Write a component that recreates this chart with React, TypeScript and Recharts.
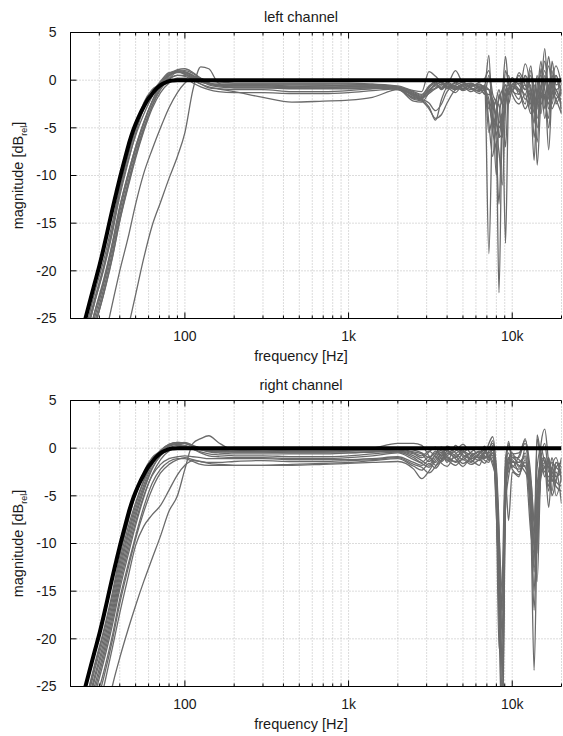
import { LineChart, Line, XAxis, YAxis, CartesianGrid, ReferenceLine, Label } from 'recharts'

// frequency grid (Hz), shared by every measured curve
const FREQ = [
  20, 25, 28, 32, 36, 40, 45, 50, 56, 63, 71, 80, 90, 100, 112, 125, 140, 160, 200,
  300, 450, 700, 1000, 1400, 2000, 2500,
  2800, 3100, 3400, 3700, 4000, 4500, 5000, 5600, 6300, 6800,
  7200, 7600, 8000, 8300, 8700, 9100, 9500, 10000,
  11000, 12000, 13000, 13600, 14200, 15000, 15800, 16700, 17500, 18500, 20000,
]

// target high-pass response (thick black), own denser grid for a smooth knee
const TARGET_FREQ = [
  20, 22, 24, 26, 28, 30, 32, 34, 36, 38, 40, 42, 44, 46, 48, 50, 53, 56, 59, 62, 65, 68, 72, 76, 80, 85, 90, 100, 1000, 20000,
]
const TARGET = [
  -31, -28.3, -25.8, -23.5, -21.4, -19.5, -17.5, -15.5, -13.6, -11.9, -10.3, -8.9, -7.6, -6.4, -5.4, -4.6,
  -3.6, -2.8, -2.1, -1.6, -1.15, -0.8, -0.45, -0.25, -0.1, -0.03, 0, 0, 0, 0,
]

// left channel measurements
const LEFT_1 = [
  -33, -26.3, -23, -19.4, -15.7, -11.8, -8.4, -5.8, -3.6, -1.7, -0.2, 0.6, 0.9, 0.7, 0.3, -0.1, -0.3, -0.4, -0.4,
  -0.4, -0.4, -0.4, -0.4, -0.5, -0.7, -1.2,
  -1.5, -0.6, -0.2, -0.5, -0.3, -0.8, -0.4, -0.6, -0.5, -0.8,
  -18.2, -3.5, -2.0, -1.0, -2.5, -1.0, -0.5, -1.0,
  0.5, -1.0, 1.5, -2.0, -3.0, 1.2, -1.0, -2.5, 0.5, -1.0, -0.5,
]
const LEFT_2 = [
  -34.5, -27.8, -24.5, -21, -17.2, -13.3, -9.8, -7.0, -4.5, -2.2, -0.4, 0.7, 1.0, 0.9, 0.5, 0, -0.3, -0.5, -0.5,
  -0.5, -0.5, -0.5, -0.6, -0.6, -0.8, -1.4,
  -1.7, -1.0, -0.5, -0.2, -0.7, -0.3, -0.9, -0.5, -1.0, -0.6,
  -5.5, -4.0, -6.5, -22.3, -4.0, -1.5, -0.8, -1.2,
  -1.5, 1.7, -2.0, -8.4, -1.5, -0.5, 2.0, -1.0, -2.0, 0.5, -1.5,
]
const LEFT_3 = [
  -32.5, -25.8, -22.4, -18.8, -15, -11.2, -7.9, -5.2, -3.0, -1.3, -0.1, 0.8, 0.9, 0.6, 0.2, -0.2, -0.4, -0.6, -0.6,
  -0.6, -0.7, -0.7, -0.7, -0.7, -0.9, -1.5,
  -1.8, -1.2, -0.8, -0.4, -0.6, -1.0, -0.5, -0.3, -0.9, -1.2,
  -3.0, -2.0, -4.5, -6.0, -3.5, -17.1, -2.0, -0.6,
  -1.0, -0.5, -2.5, -1.0, -8.9, -2.0, -0.5, 1.5, -1.0, -2.0, -3.5,
]
const LEFT_4 = [
  -36, -29.2, -26, -22.3, -18.6, -14.7, -11, -8.0, -5.2, -2.7, -0.8, 0.4, 1.1, 1.2, 0.8, 0.2, -0.3, -0.6, -0.7,
  -0.7, -0.8, -0.8, -0.8, -0.8, -1.0, -1.8,
  -2.0, -0.8, -0.3, -0.9, -0.4, -0.6, -1.1, -0.7, -0.4, -1.0,
  -2.0, -5.5, -7.5, -13.0, -3.0, -0.5, -1.5, -0.5,
  0.0, -2.0, -1.0, -3.5, -1.5, 2.0, -3.0, -0.5, -2.5, 0.0, -1.0,
]
const LEFT_5 = [
  -35, -28.2, -25, -21.3, -17.6, -13.8, -10.2, -7.3, -4.6, -2.3, -0.5, 0.5, 0.8, 0.8, 0.5, 0, -0.5, -0.7, -0.8,
  -0.8, -0.9, -0.9, -0.9, -0.8, -0.9, -1.6,
  -1.9, -1.4, -0.9, -0.6, -0.9, -0.2, -0.6, -1.2, -0.7, -0.9,
  -1.0, -3.0, -10.0, -4.0, -1.5, 2.5, -0.5, -1.0,
  -2.0, 0.5, -3.0, -1.5, -2.5, -1.0, 3.3, -2.0, 0.0, -1.5, -2.0,
]
const LEFT_6 = [
  -33.5, -26.8, -23.4, -19.6, -15.6, -11.5, -7.8, -5.0, -2.4, -1.0, -0.4, 0.5, 0.9, 0.8, 0.4, -0.1, -0.4, -0.5, -0.5,
  -0.5, -0.6, -0.6, -0.5, -0.5, -0.7, -1.3,
  -1.6, -0.7, -0.1, -0.3, -0.8, -0.5, -0.2, -0.8, -1.2, -0.5,
  -4.5, -8.0, -3.5, -2.5, -6.0, -2.0, -1.0, 0.0,
  -0.5, -1.5, 0.5, -2.5, -4.0, -1.5, -1.0, -7.3, -1.0, 1.5, -0.5,
]
const LEFT_7 = [
  -35.5, -28.7, -25.5, -21.8, -18.1, -14.3, -10.7, -7.7, -5.0, -2.7, -1.0, 0.1, 0.5, 0.5, 0.1, -0.4, -0.8, -0.9, -1.0,
  -1.0, -1.2, -1.2, -1.1, -0.9, -0.8, -1.7,
  -2.0, -2.4, -3.2, -2.5, -1.2, -0.6, -0.9, -0.4, -0.8, -1.4,
  0.5, -2.5, -4.0, -6.0, -5.5, -1.5, -2.5, -0.8,
  -1.2, -3.0, -1.5, -0.5, -2.0, -3.5, 0.5, -3.0, -1.5, -1.0, -3.0,
]
const LEFT_8 = [
  -36, -29.2, -26, -22.4, -18.7, -14.8, -11.2, -8.2, -5.4, -3.0, -1.3, -0.3, 0.2, 0.2, -0.3, -0.7, -1.0, -1.2, -1.3,
  -1.3, -1.4, -1.4, -1.3, -1.1, -0.9, -2.0,
  -2.2, -3.0, -4.0, -3.6, -2.4, -1.0, -0.7, -1.0, -0.6, -1.1,
  -2.5, -4.5, -5.5, -7.5, -11.0, -3.0, 0.5, -1.2,
  0.8, -0.5, -2.0, -4.5, -0.5, 0.5, -2.0, -4.0, 2.0, -0.5, 0.0,
]
const LEFT_9 = [
  -34.5, -27.8, -24.4, -20.8, -17.1, -13.3, -9.8, -7.0, -4.4, -2.3, -0.8, 0.1, 0.5, 0.4, 0, -0.4, -0.7, -0.9, -1.2,
  -1.8, -2.3, -2.2, -2.1, -1.8, -1.0, -1.9,
  -2.1, -2.8, -4.2, -2.0, -0.8, -1.3, -0.5, -0.9, -1.4, -0.6,
  2.6, -5.0, -3.0, -2.0, -1.0, -0.5, -1.5, -0.4,
  -1.0, -2.5, 1.0, -1.0, -5.0, -1.0, 1.0, -1.5, -3.0, -2.0, -1.5,
]
const LEFT_10 = [
  -33.5, -26.7, -23.4, -19.8, -16.1, -12.2, -8.6, -5.6, -3.0, -1.4, -0.6, 0.2, 0.9, 1.0, 0.7, 0.2, -0.1, -0.2, -0.3,
  -0.3, -0.3, -0.3, -0.3, -0.4, -0.6, -1.1,
  -1.2, 0.9, 0.4, -0.2, -0.4, 1.0, -0.3, -0.6, -0.2, 0.2,
  1.0, -1.5, -2.5, -4.5, -3.5, -7.0, -1.0, -0.7,
  -0.3, -1.0, -0.5, -6.0, -2.5, 1.0, -0.5, 2.5, -0.5, -1.0, -2.5,
]
const LEFT_11 = [
  -44, -36, -32, -27.5, -23.5, -20, -16.5, -13, -9.8, -7.3, -5.0, -2.9, -1.3, -0.3, 0.3, 0.2, -0.3, -0.5, -0.6,
  -0.6, -0.7, -0.6, -0.6, -0.6, -0.8, -1.5,
  -1.8, -1.1, -0.6, -0.8, -0.2, -0.7, -1.0, -0.4, -0.7, -1.5,
  -1.5, -2.0, -4.0, -1.5, -2.5, 1.0, -0.3, -1.5,
  -2.5, -1.5, -3.5, -2.0, 0.5, -2.5, -1.5, -5.0, -1.0, 0.5, -3.5,
]
const LEFT_12 = [
  -60, -50, -44, -38, -33, -30, -26, -22.5, -18.7, -15.3, -12.8, -10.3, -8.0, -5.5, -1.0, 1.4, 1.2, -0.3, -0.8,
  -0.8, -0.8, -0.8, -0.7, -0.7, -0.9, -2.2,
  -2.3, -1.3, -0.4, -1.0, -0.5, -0.9, -0.6, -0.8, -1.1, -0.7,
  -1.0, -3.0, -2.0, -5.0, -4.0, -2.5, -1.0, 0.3,
  -1.5, 0.5, -1.0, -2.5, -6.5, -0.5, -4.0, -1.0, 1.0, -2.5, -1.0,
]

// right channel measurements
const RIGHT_1 = [
  -33, -26.3, -23, -19.3, -15.6, -11.8, -8.3, -5.7, -3.4, -1.5, -0.2, 0.4, 0.6, 0.5, 0.2, 0, -0.2, -0.3, -0.3,
  -0.3, -0.3, -0.3, -0.2, -0.1, 0.0, -0.2,
  -0.5, -1.0, -0.3, -0.8, 0.2, -0.5, -1.2, -0.4, 0.0, -0.6,
  0.5, 1.2, -3.0, -14.0, -22.0, -4.0, 0.5, -1.0,
  -1.0, 1.0, -5.0, -12.0, 1.0, -1.5, -2.0, -3.0, -2.5, -3.5, -4.0,
]
const RIGHT_2 = [
  -34, -27.3, -24, -20.3, -16.6, -12.8, -9.2, -6.4, -3.9, -1.8, -0.4, 0.3, 0.5, 0.6, 0.3, 0, -0.3, -0.4, -0.4,
  -0.4, -0.4, -0.4, -0.3, 0.0, 0.5, 0.5,
  0.3, -0.8, -1.5, -0.5, -0.2, -1.0, -0.3, -0.8, -1.3, -0.4,
  -0.5, 0.0, -4.5, -18.0, -30.0, -6.0, -1.5, -0.5,
  -2.0, -0.5, -8.0, -23.3, -9.0, 0.5, 2.0, -1.5, -3.5, -2.0, -1.5,
]
const RIGHT_3 = [
  -33, -26.2, -22.8, -19, -15.2, -11.3, -7.7, -4.8, -2.5, -1.0, -0.3, 0.2, 0.4, 0.3, 0, -0.2, -0.3, -0.3, -0.4,
  -0.4, -0.5, -0.5, -0.5, -0.4, -0.3, -0.6,
  -1.0, -0.4, 0.1, -1.1, -0.6, -0.1, -0.9, -1.5, -0.5, -0.2,
  -1.0, -0.5, -2.5, -10.0, -23.3, -3.0, 0.7, -1.5,
  -1.5, -1.0, -6.0, -10.0, -14.0, -2.0, -1.0, -4.0, -2.0, -5.0, -3.0,
]
const RIGHT_4 = [
  -35, -28.2, -25, -21.3, -17.6, -13.8, -10.2, -7.2, -4.5, -2.2, -0.7, 0.2, 0.5, 0.5, 0.2, -0.1, -0.4, -0.5, -0.6,
  -0.6, -0.6, -0.6, -0.5, -0.4, -0.3, -0.8,
  -1.3, -1.8, -0.6, 0.1, -1.0, -1.4, -0.5, 0.0, -0.9, -1.1,
  -0.3, 0.8, -5.0, -15.5, -19.0, -2.0, -0.5, -2.0,
  -0.8, 0.5, -4.0, -9.0, 1.4, -1.0, -2.5, -1.0, -3.0, -2.5, -5.8,
]
const RIGHT_5 = [
  -34.5, -27.7, -24.4, -20.8, -17.1, -13.3, -9.7, -6.8, -4.2, -2.1, -0.8, 0.0, 0.3, 0.2, -0.1, -0.4, -0.6, -0.7, -0.8,
  -0.8, -0.9, -0.9, -0.8, -0.6, -0.4, -1.0,
  -1.5, -0.9, -1.8, -1.2, -0.3, -0.8, -1.6, -1.0, -0.3, -0.8,
  -1.2, -1.0, -6.5, -21.0, -13.5, -1.5, -2.5, -1.2,
  -2.5, -1.5, -7.0, -15.0, -6.0, -2.5, -1.5, -2.0, -4.5, -1.5, -2.0,
]
const RIGHT_6 = [
  -36, -29.2, -26, -22.3, -18.6, -14.8, -11.2, -8.1, -5.2, -2.8, -1.2, -0.3, 0.1, 0.2, -0.1, -0.5, -0.8, -0.9, -1.0,
  -1.0, -1.1, -1.1, -1.0, -0.8, -0.5, -1.2,
  -1.6, -2.0, -1.0, -0.4, -1.5, 0.3, -0.7, -1.2, -1.8, -0.5,
  -0.8, -0.2, -4.0, -12.0, -28.0, -5.0, -1.0, -0.8,
  -1.2, -2.0, -3.5, -8.0, -11.0, -1.0, 0.5, -2.5, -1.0, -3.0, -2.5,
]
const RIGHT_7 = [
  -35.5, -28.7, -25.5, -21.8, -18.1, -14.3, -10.7, -7.7, -5.0, -2.9, -1.7, -1.1, -0.9, -0.8, -0.9, -1.0, -1.1, -1.1, -1.1,
  -1.1, -1.2, -1.2, -1.2, -1.1, -0.9, -1.5,
  -1.8, -1.2, -0.5, -1.6, -1.9, -0.6, -0.2, -1.4, -0.7, -1.3,
  -1.5, 0.3, -7.0, -13.5, -17.0, -3.5, -7.6, -2.5,
  -3.0, 0.0, -5.5, -13.0, -8.0, -3.0, -2.0, -6.2, -2.0, -1.0, -3.5,
]
const RIGHT_8 = [
  -37, -30.2, -27, -23.4, -19.7, -15.8, -12.2, -9.2, -6.2, -3.7, -2.2, -1.4, -1.1, -1.1, -1.4, -1.7, -1.8, -1.8, -1.8,
  -1.8, -1.8, -1.7, -1.6, -1.5, -1.4, -2.2,
  -3.2, -2.4, -1.3, -0.7, -1.2, -1.8, -1.0, -0.5, -1.1, -1.6,
  -1.0, -1.8, -3.5, -9.0, -15.0, -2.5, -1.2, -1.8,
  -2.2, -1.8, -9.0, -11.0, -4.0, -1.5, -3.0, -1.5, -5.0, -3.5, -1.0,
]
const RIGHT_9 = [
  -40, -33, -29.5, -25, -21, -17.3, -13.5, -10.2, -8.2, -7.0, -6.0, -4.4, -2.8, -1.8, -1.3, -1.4, -1.5, -1.5, -1.4,
  -1.3, -1.4, -1.4, -1.3, -1.2, -1.0, -1.7,
  -2.0, -2.6, -1.9, -0.9, -0.5, -1.1, -1.9, -0.8, -0.4, -1.0,
  -0.6, -0.8, -5.5, -16.5, -25.5, -4.5, -2.0, -1.0,
  -1.5, -0.8, -6.5, -17.0, -7.5, -2.0, -1.0, -3.5, -2.5, -4.0, -4.5,
]
const RIGHT_10 = [
  -46, -38, -34, -29.5, -25, -22, -19, -16.5, -14, -11.6, -9.2, -6.6, -5.0, -2.2, 0.5, 1.0, 1.3, 0.6, -0.2,
  -0.3, -0.3, -0.3, -0.3, -0.3, -0.2, -0.5,
  -0.8, -0.3, -0.9, -1.4, -0.8, -0.3, 0.4, -0.6, -1.0, -0.3,
  0.0, 0.5, -2.0, -8.0, -20.0, -1.0, 0.3, -0.6,
  -0.5, 0.8, -3.0, -7.7, -2.0, 0.0, -1.5, -2.0, -1.5, -2.0, -2.5,
]
const RIGHT_11 = [
  -33.5, -26.8, -23.4, -19.8, -16.1, -12.3, -8.8, -6.0, -3.5, -1.6, -0.3, 0.4, 0.6, 0.5, 0.2, 0, -0.2, -0.2, -0.3,
  -0.3, -0.2, -0.2, -0.2, -0.2, -0.1, -0.4,
  -0.6, -1.4, -0.7, -0.2, -1.3, -0.9, -0.4, -1.1, -0.6, 0.2,
  -1.3, -0.5, -3.0, -11.0, -24.0, -3.0, -1.0, -2.2,
  -2.8, -1.2, -7.5, -12.5, -10.0, -2.5, -2.0, -1.0, -3.5, -1.5, -3.0,
]
const RIGHT_12 = [
  -38, -31, -27.7, -24, -20.2, -16.3, -12.6, -9.5, -6.7, -4.3, -2.6, -1.7, -1.2, -1.0, -1.2, -1.4, -1.6, -1.7, -1.8,
  -1.8, -1.7, -1.6, -1.5, -1.3, -1.1, -1.9,
  -2.3, -1.6, -2.1, -1.3, -0.9, -1.5, -1.2, -1.7, -1.2, -0.9,
  -0.9, -1.4, -4.5, -12.5, -16.0, -6.0, -3.0, -1.4,
  -1.8, -2.5, -4.5, -10.5, -5.0, -1.0, -1.5, -4.5, -2.0, -3.0, -2.0,
]

const LEFT = [LEFT_1, LEFT_2, LEFT_3, LEFT_4, LEFT_5, LEFT_6, LEFT_7, LEFT_8, LEFT_9, LEFT_10, LEFT_11, LEFT_12]
const RIGHT = [RIGHT_1, RIGHT_2, RIGHT_3, RIGHT_4, RIGHT_5, RIGHT_6, RIGHT_7, RIGHT_8, RIGHT_9, RIGHT_10, RIGHT_11, RIGHT_12]

const X_TICKS = [
  20, 30, 40, 50, 60, 70, 80, 90, 100,
  200, 300, 400, 500, 600, 700, 800, 900, 1000,
  2000, 3000, 4000, 5000, 6000, 7000, 8000, 9000, 10000, 20000,
]
const X_LABELS: Record<number, string> = { 100: '100', 1000: '1k', 10000: '10k' }
const Y_TICKS = [-25, -20, -15, -10, -5, 0, 5]

const W = 563
const H = 368
const PLOT_TOP = 32.5
const PLOT_H = 286
const PLOT_LEFT = 70.5
const FONT = '"Liberation Sans", Arial, Helvetica, sans-serif'

const targetRows = TARGET_FREQ.map((f, i) => ({ f, v: TARGET[i] }))

function buildRows(curves: number[][]) {
  return FREQ.map((f, i) => {
    const row: Record<string, number> = { f }
    curves.forEach((c, j) => {
      row['m' + j] = c[i]
    })
    return row
  })
}

function FreqTick(props: any) {
  const { x, y, payload } = props
  const v = payload.value
  const len = X_LABELS[v] ? 6 : 3
  return (
    <g>
      <line x1={x} y1={y} x2={x} y2={y - len} stroke="#000" strokeWidth={1} />
      <line x1={x} y1={PLOT_TOP} x2={x} y2={PLOT_TOP + len} stroke="#000" strokeWidth={1} />
      {X_LABELS[v] && (
        <text x={x} y={y + 18} dy="0.35em" textAnchor="middle" fontSize={14} fill="#1a1a1a" fontFamily={FONT}>
          {X_LABELS[v]}
        </text>
      )}
    </g>
  )
}

function DbTick(props: any) {
  const { x, y, payload } = props
  return (
    <g>
      <line x1={x} y1={y} x2={x + 6} y2={y} stroke="#000" strokeWidth={1} />
      <text x={x - 14} y={y} dy="0.35em" textAnchor="end" fontSize={14} fill="#1a1a1a" fontFamily={FONT}>
        {payload.value}
      </text>
    </g>
  )
}

function Panel({ title, curves }: { title: string; curves: number[][] }) {
  const rows = buildRows(curves)
  const cy = PLOT_TOP + PLOT_H / 2
  return (
    <div style={{ position: 'relative', width: W, height: H }}>
      <div
        style={{
          position: 'absolute', left: 201, top: 8.5, width: 200, lineHeight: '17px',
          textAlign: 'center', fontSize: 14.5, fontFamily: FONT, color: '#1a1a1a',
        }}
      >
        {title}
      </div>
      <LineChart width={W} height={H} data={rows} margin={{ top: PLOT_TOP, right: 1.5, bottom: 0, left: 0 }}>
        <CartesianGrid stroke="#b8b8b8" strokeDasharray="1 2" />
        <XAxis
          dataKey="f"
          type="number"
          scale="log"
          domain={[20, 20000]}
          ticks={X_TICKS}
          interval={0}
          allowDataOverflow
          height={H - PLOT_TOP - PLOT_H}
          tickSize={0}
          tickMargin={0}
          tick={<FreqTick />}
          axisLine={{ stroke: '#000' }}
        >
          <Label
            content={() => (
              <text x={301} y={PLOT_TOP + PLOT_H + 37.5} dy="0.35em" textAnchor="middle" fontSize={14.5} fill="#1a1a1a" fontFamily={FONT}>
                frequency [Hz]
              </text>
            )}
          />
        </XAxis>
        <YAxis
          type="number"
          domain={[-25, 5]}
          ticks={Y_TICKS}
          interval={0}
          allowDataOverflow
          width={PLOT_LEFT}
          tickSize={0}
          tickMargin={0}
          tick={<DbTick />}
          axisLine={{ stroke: '#000' }}
        >
          <Label
            content={() => (
              <text transform={`translate(18, ${cy}) rotate(-90)`} textAnchor="middle" fontSize={14.5} fill="#1a1a1a" fontFamily={FONT}>
                <tspan dy="0.35em">magnitude [dB</tspan>
                <tspan fontSize={9} dy={4}>rel</tspan>
                <tspan dy={-4}>]</tspan>
              </text>
            )}
          />
        </YAxis>
        <ReferenceLine y={5} stroke="#000" strokeWidth={1} />
        {curves.map((_, j) => (
          <Line
            key={j}
            dataKey={'m' + j}
            type="monotone"
            stroke="#6b6b6b"
            strokeWidth={1.3}
            dot={false}
            activeDot={false}
            isAnimationActive={false}
          />
        ))}
        <Line
          data={targetRows}
          dataKey="v"
          type="monotone"
          stroke="#000"
          strokeWidth={4}
          dot={false}
          activeDot={false}
          isAnimationActive={false}
        />
      </LineChart>
    </div>
  )
}

export default function App() {
  return (
    <div style={{ position: 'absolute', left: 0, top: 0, width: W, height: 736, background: '#fff' }}>
      <Panel title="left channel" curves={LEFT} />
      <Panel title="right channel" curves={RIGHT} />
    </div>
  )
}
